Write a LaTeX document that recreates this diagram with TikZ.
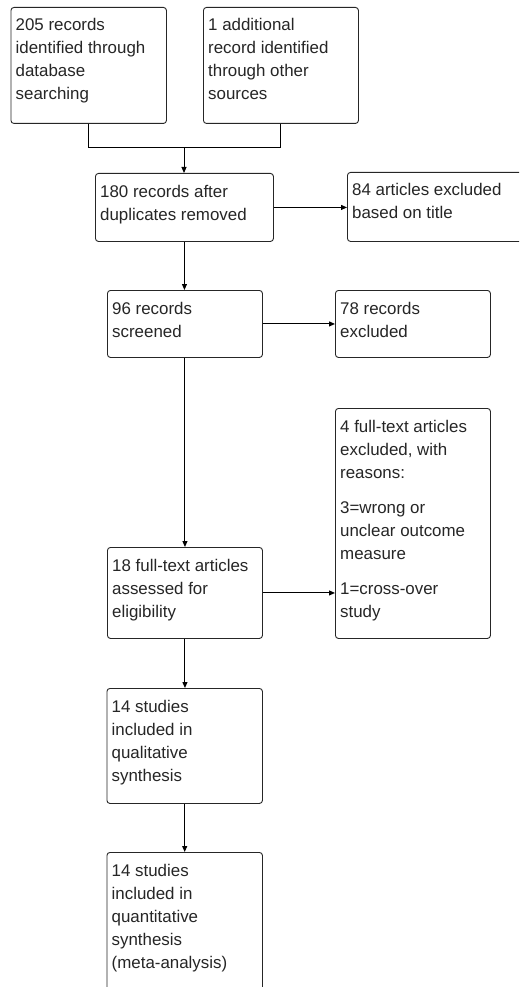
\documentclass[tikz,border=0pt]{standalone}
\usepackage{fontspec}
\setmainfont{Liberation Sans}
\usetikzlibrary{arrows.meta}
\begin{document}
\begin{tikzpicture}[x=1pt,y=-1pt,
  box/.style={draw=black!85, line width=0.9pt, rounded corners=3pt, inner sep=0pt, fill=white, anchor=north west},
  txt/.style={inner sep=0pt, anchor=base west, font=\fontsize{16.9}{23}\selectfont, text=black!85},
  conn/.style={line width=1pt, black},
  arr/.style={conn, -{Triangle[length=6pt,width=5pt]}}]
\useasboundingbox (0,0) rectangle (519,987);
\clip (0,0) rectangle (519,987);
% boxes
\node[box, minimum width=155.5pt, minimum height=116pt] (b1) at (10.5,7) {};
\node[box, minimum width=155pt, minimum height=116pt] (b2) at (203,7) {};
\node[box, minimum width=178pt, minimum height=68pt] (b3) at (95,173) {};
\node[box, minimum width=190pt, minimum height=69pt] (b4) at (347,172) {};
\node[box, minimum width=155pt, minimum height=67pt] (b5) at (107,290) {};
\node[box, minimum width=155pt, minimum height=67pt] (b6) at (335,290) {};
\node[box, minimum width=155pt, minimum height=230pt] (b7) at (335,408) {};
\node[box, minimum width=155pt, minimum height=91pt] (b8) at (107,547) {};
\node[box, minimum width=155.5pt, minimum height=115pt] (b9) at (106.5,688) {};
\node[box, minimum width=155.5pt, minimum height=170pt] (b10) at (106.5,852) {};
% texts
\node[txt] (t1) at ([xshift=5pt,yshift=-24pt]b1.north west) {\parbox[t]{150pt}{\raggedright 205 records\\identified through\\database\\searching}};
\node[txt] (t2) at ([xshift=5pt,yshift=-24pt]b2.north west) {\parbox[t]{150pt}{\raggedright 1 additional\\record identified\\through other\\sources}};
\node[txt] (t3) at ([xshift=5pt,yshift=-24pt]b3.north west) {\parbox[t]{170pt}{\raggedright 180 records after\\duplicates removed}};
\node[txt] (t4) at ([xshift=5pt,yshift=-24pt]b4.north west) {\parbox[t]{170pt}{\raggedright 84 articles excluded\\based on title}};
\node[txt] (t5) at ([xshift=5pt,yshift=-24pt]b5.north west) {\parbox[t]{150pt}{\raggedright 96 records\\screened}};
\node[txt] (t6) at ([xshift=5pt,yshift=-24pt]b6.north west) {\parbox[t]{150pt}{\raggedright 78 records\\excluded}};
\node[txt] (t7) at ([xshift=5pt,yshift=-24pt]b7.north west) {\parbox[t]{150pt}{\raggedright 4 full-text articles\\excluded, with\\reasons:\\[12pt]3=wrong or\\unclear outcome\\measure\\[12pt]1=cross-over\\study}};
\node[txt] (t8) at ([xshift=5pt,yshift=-24pt]b8.north west) {\parbox[t]{150pt}{\raggedright 18 full-text articles\\assessed for\\eligibility}};
\node[txt] (t9) at ([xshift=5pt,yshift=-24pt]b9.north west) {\parbox[t]{150pt}{\raggedright 14 studies\\included in\\qualitative\\synthesis}};
\node[txt] (t10) at ([xshift=5pt,yshift=-24pt]b10.north west) {\parbox[t]{150pt}{\raggedright 14 studies\\included in\\quantitative\\synthesis\\(meta-analysis)}};
% connectors
\coordinate (m) at (184,148);
\draw[conn] (b1.south) -- (b1.south |- m) -- (b2.south |- m) -- (b2.south);
\draw[arr] (m) -- (m |- b3.north);
\draw[arr] (b3.east) -- (b3.east -| b4.west);
\draw[arr] (b3.south) -- (b3.south |- b5.north);
\draw[arr] (b5.east) -- (b5.east -| b6.west);
\draw[arr] (b5.south) -- (b5.south |- b8.north);
\draw[arr] (b8.east) -- (b8.east -| b7.west);
\draw[arr] (b8.south) -- (b8.south |- b9.north);
\draw[arr] (b9.south) -- (b9.south |- b10.north);
\end{tikzpicture}
\end{document}
